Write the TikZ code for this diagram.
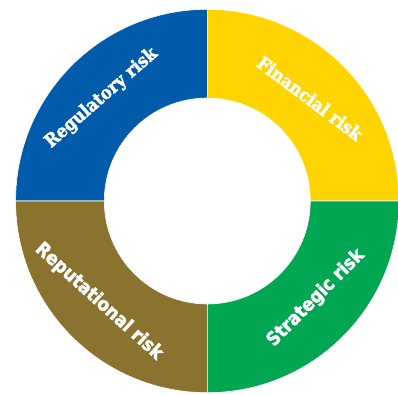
\documentclass[tikz,border=0pt]{standalone}
\usepackage{fontspec}
\newfontfamily\slabfont{DejaVu Serif Condensed}
\newfontfamily\grotfont{DejaVu Sans Condensed}
\definecolor{regblue}{HTML}{005BAA}
\definecolor{finyellow}{HTML}{FFD400}
\definecolor{strgreen}{HTML}{00A651}
\definecolor{repolive}{HTML}{8A732F}
\newcommand{\heavytext}[1]{\special{pdf:literal 2 Tr 0.42 w 1 1 1 RG}#1\special{pdf:literal 0 Tr}}
\begin{document}
\begin{tikzpicture}[x=1pt,y=1pt,
  segment/.style={draw=white,line width=0.6pt},
  slablabel/.style={text=white,font=\slabfont\bfseries\fontsize{18.2}{20}\selectfont,inner sep=0pt},
  grotlabel/.style={text=white,font=\grotfont\bfseries\fontsize{18.8}{20}\selectfont,inner sep=0pt}]
\useasboundingbox (-207.3,-194) rectangle (190.7,201);
\def\Ro{191.7}
\def\Ri{103}
\fill[white] (-207.3,-194) rectangle (190.7,201);
\path[segment,fill=finyellow] (0,\Ri) -- (0,\Ro) arc[start angle=90,end angle=0,radius=\Ro] -- (\Ri,0) arc[start angle=0,end angle=90,radius=\Ri] -- cycle;
\path[segment,fill=regblue] (0,\Ri) -- (0,\Ro) arc[start angle=90,end angle=180,radius=\Ro] -- (-\Ri,0) arc[start angle=180,end angle=90,radius=\Ri] -- cycle;
\path[segment,fill=repolive] (0,-\Ri) -- (0,-\Ro) arc[start angle=270,end angle=180,radius=\Ro] -- (-\Ri,0) arc[start angle=180,end angle=270,radius=\Ri] -- cycle;
\path[segment,fill=strgreen] (0,-\Ri) -- (0,-\Ro) arc[start angle=270,end angle=360,radius=\Ro] -- (\Ri,0) arc[start angle=0,end angle=-90,radius=\Ri] -- cycle;
\node[slablabel,rotate=41] (reg) at (-105.8,103) {\heavytext{Regulatory risk}};
\node[slablabel,rotate=-37] (fin) at (102.7,102.7) {\heavytext{Financial risk}};
\node[grotlabel,rotate=45] (str) at (108.5,-97) {\heavytext{Strategic risk}};
\node[grotlabel,rotate=-42] (rep) at (-108.3,-100.5) {\heavytext{Reputational risk}};
\end{tikzpicture}
\end{document}
